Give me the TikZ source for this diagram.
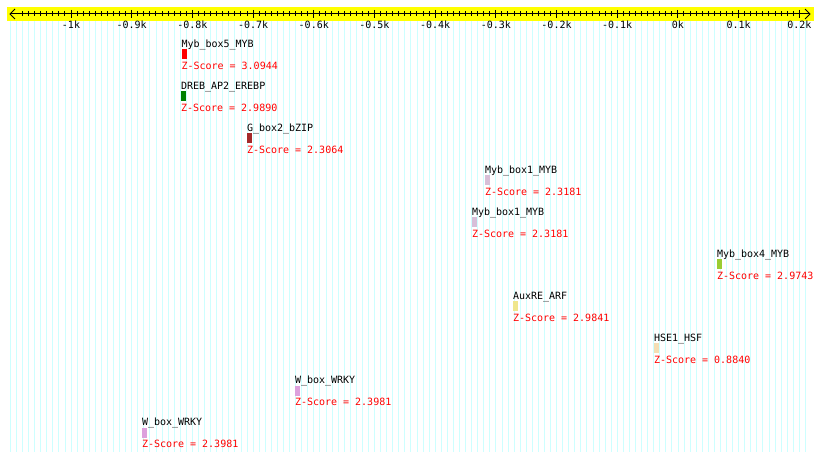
\documentclass[tikz,border=0pt]{standalone}
\usepackage{fontspec}
\newfontfamily\pixmono{DejaVu Sans Mono}
\definecolor{gridcyan}{RGB}{205,255,255}
\definecolor{axisyellow}{RGB}{255,255,0}
\definecolor{zred}{RGB}{255,0,0}
\definecolor{mred}{RGB}{255,0,0}
\definecolor{mgreen}{RGB}{0,128,0}
\definecolor{mbrown}{RGB}{165,42,42}
\definecolor{mthistle}{RGB}{216,191,216}
\definecolor{myellowgreen}{RGB}{154,205,50}
\definecolor{mkhaki}{RGB}{240,230,140}
\definecolor{mwheat}{RGB}{245,222,179}
\definecolor{mplum}{RGB}{221,160,221}
\newcommand\placemotif[6]{%
  \pgfmathsetmacro\yzero{43.5+42*#3}%
  \node[mname] (n#1) at (#2,\yzero+3.6) {#4};
  \node[mbox,fill=#5] (b#1) at (#2,\yzero+6) {};
  \node[zscore] (z#1) at (#2,\yzero+25.8) {Z-Score = #6};
}
\begin{document}
\begin{tikzpicture}[x=1bp,y=-1bp,
  every node/.style={inner sep=0pt,outer sep=0pt,font=\pixmono\fontsize{10bp}{12bp}\selectfont},
  mname/.style={anchor=base west,text=black},
  zscore/.style={anchor=base west,text=zred},
  mbox/.style={anchor=north west,minimum width=5bp,minimum height=10bp,draw=none},
  ticklabel/.style={anchor=base,text=black},
  gridline/.style={draw=gridcyan,line width=0.8bp},
  axisline/.style={draw=black,line width=1bp}]
\useasboundingbox[fill=white] (0,0) rectangle (820,461);
% background grid
\foreach \i in {0,...,131}{
  \pgfmathsetmacro\xx{71+(\i*10-100)*0.6069}
  \draw[gridline] (\xx,21) -- (\xx,452);
}
% axis band
\fill[axisyellow] (7,7) rectangle (814,21);
\draw[axisline] (10,14) -- (810,14);
\draw[axisline] (15,9) -- (10,14) -- (15,19);
\draw[axisline] (805,9) -- (810,14) -- (805,19);
\foreach \i in {0,...,128}{
  \pgfmathsetmacro\xx{71+(\i*10-80)*0.6069}
  \draw[axisline] (\xx,11.5) -- (\xx,16.5);
}
\foreach \v/\t [count=\k] in {-1000/-1k,-900/-0.9k,-800/-0.8k,-700/-0.7k,-600/-0.6k,-500/-0.5k,-400/-0.4k,-300/-0.3k,-200/-0.2k,-100/-0.1k,0/0k,100/0.1k,200/0.2k}{
  \pgfmathsetmacro\xx{71+(\v+1000)*0.6069}
  \draw[axisline] (\xx,10) -- (\xx,18.5);
  \node[ticklabel] (tl\k) at (\xx,29) {\t};
}
% motifs
\placemotif{1}{181.5}{0}{Myb\_box5\_MYB}{mred}{3.0944}
\placemotif{2}{181}{1}{DREB\_AP2\_EREBP}{mgreen}{2.9890}
\placemotif{3}{247}{2}{G\_box2\_bZIP}{mbrown}{2.3064}
\placemotif{4}{485}{3}{Myb\_box1\_MYB}{mthistle}{2.3181}
\placemotif{5}{472}{4}{Myb\_box1\_MYB}{mthistle}{2.3181}
\placemotif{6}{717}{5}{Myb\_box4\_MYB}{myellowgreen}{2.9743}
\placemotif{7}{513}{6}{AuxRE\_ARF}{mkhaki}{2.9841}
\placemotif{8}{654}{7}{HSE1\_HSF}{mwheat}{0.8840}
\placemotif{9}{295}{8}{W\_box\_WRKY}{mplum}{2.3981}
\placemotif{10}{142}{9}{W\_box\_WRKY}{mplum}{2.3981}
\end{tikzpicture}
\end{document}
